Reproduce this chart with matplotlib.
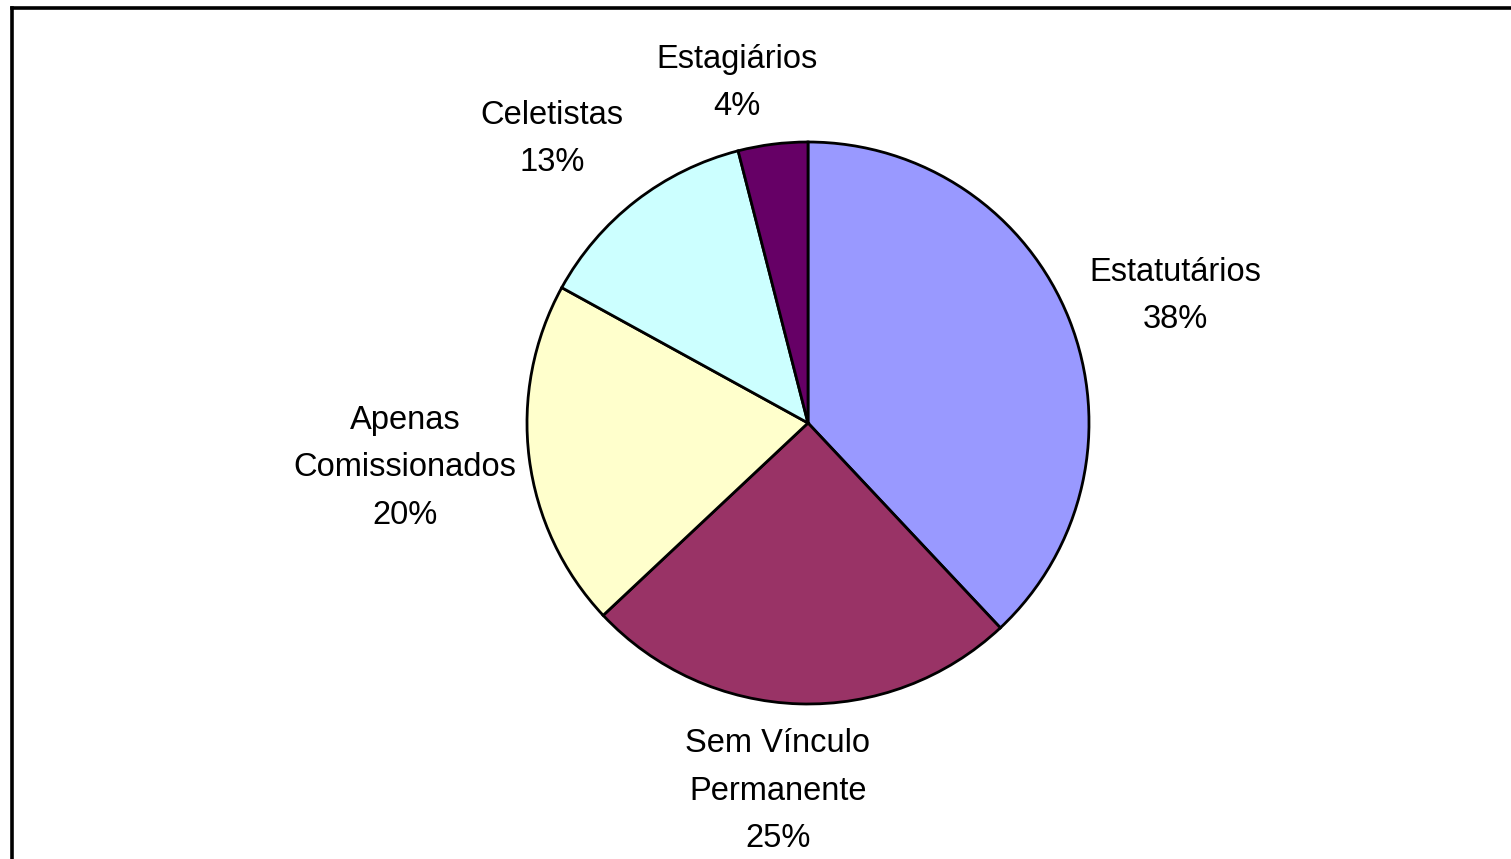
import matplotlib
matplotlib.use("Agg")
import matplotlib.pyplot as plt
from matplotlib.lines import Line2D

categories = ["Estatutários", "Sem Vínculo\nPermanente", "Apenas\nComissionados", "Celetistas", "Estagiários"]
values = [38, 25, 20, 13, 4]
colors = ["#9999FF", "#993366", "#FFFFCC", "#CCFFFF", "#660066"]

# label centres relative to pie centre, in units of pie radius (layout)
label_pos = [(1.306, 0.452), (-0.107, -1.310), (-1.434, -0.160), (-0.911, 1.010), (-0.253, 1.210)]

plt.rcParams['font.family'] = ['Liberation Sans', 'DejaVu Sans']

W, H = 1511, 859
fig = plt.figure(figsize=(W / 100, H / 100), dpi=100)
cx, cy, R = 808, 423, 281
ax = fig.add_axes([(cx - R) / W, (H - cy - R) / H, 2 * R / W, 2 * R / H])
ax.pie(values, colors=colors, startangle=90, counterclock=False, radius=1,
       wedgeprops=dict(edgecolor="black", linewidth=2.0))
ax.set_xlim(-1, 1)
ax.set_ylim(-1, 1)
ax.set_aspect('auto')
ax.axis('off')

for cat, v, (lx, ly) in zip(categories, values, label_pos):
    ax.text(lx, ly, f"{cat}\n{v}%", ha="center", va="center", fontsize=23.5,
            linespacing=1.68, color="black", clip_on=False)

# frame (top and left edges visible)
fig.add_artist(Line2D([12 / W, 1.0], [1 - 7.5 / H, 1 - 7.5 / H], transform=fig.transFigure,
                      color="black", linewidth=2.6, solid_capstyle="projecting"))
fig.add_artist(Line2D([12 / W, 12 / W], [0, 1 - 7.5 / H], transform=fig.transFigure,
                      color="black", linewidth=2.6, solid_capstyle="projecting"))

fig.savefig("out.png", dpi=100, facecolor="white")
